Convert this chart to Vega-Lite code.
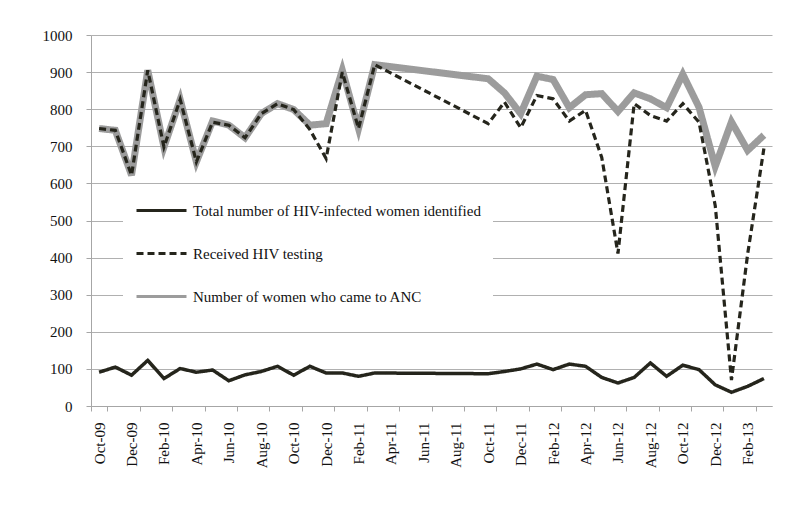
{
  "$schema": "https://vega.github.io/schema/vega-lite/v6.json",
  "width": 681,
  "height": 371,
  "autosize": {"type": "none"},
  "padding": {"left": 91, "top": 35, "right": 28, "bottom": 119},
  "background": "white",
  "data": {"values": [
    {"month": "Oct-09", "anc": 748, "tested": 748, "total": 91},
    {"month": "Nov-09", "anc": 743, "tested": 743, "total": 105},
    {"month": "Dec-09", "anc": 622, "tested": 622, "total": 83},
    {"month": "Jan-10", "anc": 905, "tested": 905, "total": 123},
    {"month": "Feb-10", "anc": 698, "tested": 698, "total": 74},
    {"month": "Mar-10", "anc": 826, "tested": 826, "total": 101},
    {"month": "Apr-10", "anc": 658, "tested": 658, "total": 91},
    {"month": "May-10", "anc": 768, "tested": 765, "total": 97},
    {"month": "Jun-10", "anc": 757, "tested": 757, "total": 68},
    {"month": "Jul-10", "anc": 723, "tested": 723, "total": 84},
    {"month": "Aug-10", "anc": 788, "tested": 788, "total": 93},
    {"month": "Sep-10", "anc": 815, "tested": 815, "total": 107},
    {"month": "Oct-10", "anc": 799, "tested": 799, "total": 83},
    {"month": "Nov-10", "anc": 757, "tested": 745, "total": 107},
    {"month": "Dec-10", "anc": 761, "tested": 667, "total": 89},
    {"month": "Jan-11", "anc": 905, "tested": 900, "total": 89},
    {"month": "Feb-11", "anc": 748, "tested": 748, "total": 80},
    {"month": "Mar-11", "anc": 920, "tested": 920, "total": 89},
    {"month": "Oct-11", "anc": 882, "tested": 761, "total": 87},
    {"month": "Nov-11", "anc": 844, "tested": 819, "total": 93},
    {"month": "Dec-11", "anc": 788, "tested": 750, "total": 100},
    {"month": "Jan-12", "anc": 889, "tested": 837, "total": 113},
    {"month": "Feb-12", "anc": 880, "tested": 828, "total": 98},
    {"month": "Mar-12", "anc": 804, "tested": 768, "total": 113},
    {"month": "Apr-12", "anc": 839, "tested": 797, "total": 107},
    {"month": "May-12", "anc": 842, "tested": 670, "total": 77},
    {"month": "Jun-12", "anc": 794, "tested": 411, "total": 62},
    {"month": "Jul-12", "anc": 844, "tested": 815, "total": 77},
    {"month": "Aug-12", "anc": 828, "tested": 783, "total": 116},
    {"month": "Sep-12", "anc": 804, "tested": 768, "total": 80},
    {"month": "Oct-12", "anc": 894, "tested": 815, "total": 110},
    {"month": "Nov-12", "anc": 805, "tested": 765, "total": 98},
    {"month": "Dec-12", "anc": 646, "tested": 540, "total": 57},
    {"month": "Jan-13", "anc": 766, "tested": 70, "total": 37},
    {"month": "Feb-13", "anc": 689, "tested": 410, "total": 53},
    {"month": "Mar-13", "anc": 730, "tested": 694, "total": 74}
  ]},
  "config": {
    "view": {"stroke": null},
    "font": "Liberation Serif",
    "axis": {
      "labelFont": "Liberation Serif",
      "labelFontSize": 15,
      "labelColor": "#111111",
      "domainColor": "#a6a6a6",
      "tickColor": "#a6a6a6",
      "gridColor": "#b0b0b0",
      "tickSize": 5,
      "labelOverlap": false,
      "title": null
    },
    "legend": {
      "orient": "none",
      "legendX": 32,
      "legendY": 152,
      "fillColor": "white",
      "padding": 12,
      "symbolType": "M-1,0H4",
      "symbolSize": 400,
      "symbolStrokeWidth": 3,
      "labelFont": "Liberation Serif",
      "labelFontSize": 15,
      "labelColor": "#111111",
      "labelOffset": 35,
      "labelLimit": 400,
      "rowPadding": 23,
      "title": null
    }
  },
  "encoding": {
    "x": {
      "field": "month",
      "type": "ordinal",
      "sort": null,
      "bandPosition": 0.5,
      "scale": {
        "type": "band",
        "paddingInner": 0,
        "paddingOuter": 0,
        "domain": ["Oct-09","Nov-09","Dec-09","Jan-10","Feb-10","Mar-10","Apr-10","May-10","Jun-10","Jul-10","Aug-10","Sep-10","Oct-10","Nov-10","Dec-10","Jan-11","Feb-11","Mar-11","Apr-11","May-11","Jun-11","Jul-11","Aug-11","Sep-11","Oct-11","Nov-11","Dec-11","Jan-12","Feb-12","Mar-12","Apr-12","May-12","Jun-12","Jul-12","Aug-12","Sep-12","Oct-12","Nov-12","Dec-12","Jan-13","Feb-13","Mar-13"]
      },
      "axis": {
        "values": ["Oct-09","Dec-09","Feb-10","Apr-10","Jun-10","Aug-10","Oct-10","Dec-10","Feb-11","Apr-11","Jun-11","Aug-11","Oct-11","Dec-11","Feb-12","Apr-12","Jun-12","Aug-12","Oct-12","Dec-12","Feb-13"],
        "tickBand": "extent",
        "labelAngle": -90,
        "labelPadding": 11,
        "grid": false,
        "title": null
      }
    }
  },
  "layer": [
    {
      "mark": {"type": "line", "strokeWidth": 7},
      "encoding": {
        "y": {
          "field": "anc",
          "type": "quantitative",
          "scale": {"domain": [0, 1000], "nice": false},
          "axis": {"values": [0,100,200,300,400,500,600,700,800,900,1000], "tickCount": 11, "format": "d", "grid": true, "labelPadding": 14, "title": null}
        },
        "color": {
          "datum": "Number of women who came to ANC",
          "scale": {
            "domain": ["Total number of HIV-infected women identified", "Received HIV testing", "Number of women who came to ANC"],
            "range": ["#25251c", "#25251c", "#9c9c9c"]
          }
        },
        "strokeDash": {
          "datum": "Number of women who came to ANC",
          "scale": {
            "domain": ["Total number of HIV-infected women identified", "Received HIV testing", "Number of women who came to ANC"],
            "range": [[1, 0], [7, 4], [1, 0]]
          }
        }
      }
    },
    {
      "mark": {"type": "line", "strokeWidth": 3.2},
      "encoding": {
        "y": {
          "field": "tested",
          "type": "quantitative",
          "axis": {"values": [0,100,200,300,400,500,600,700,800,900,1000], "tickCount": 11, "format": "d", "grid": true, "labelPadding": 14, "title": null}
        },
        "color": {"datum": "Received HIV testing"},
        "strokeDash": {"datum": "Received HIV testing"}
      }
    },
    {
      "mark": {"type": "line", "strokeWidth": 3.5},
      "encoding": {
        "y": {
          "field": "total",
          "type": "quantitative",
          "axis": {"values": [0,100,200,300,400,500,600,700,800,900,1000], "tickCount": 11, "format": "d", "grid": true, "labelPadding": 14, "title": null}
        },
        "color": {"datum": "Total number of HIV-infected women identified"},
        "strokeDash": {"datum": "Total number of HIV-infected women identified"}
      }
    }
  ]
}
